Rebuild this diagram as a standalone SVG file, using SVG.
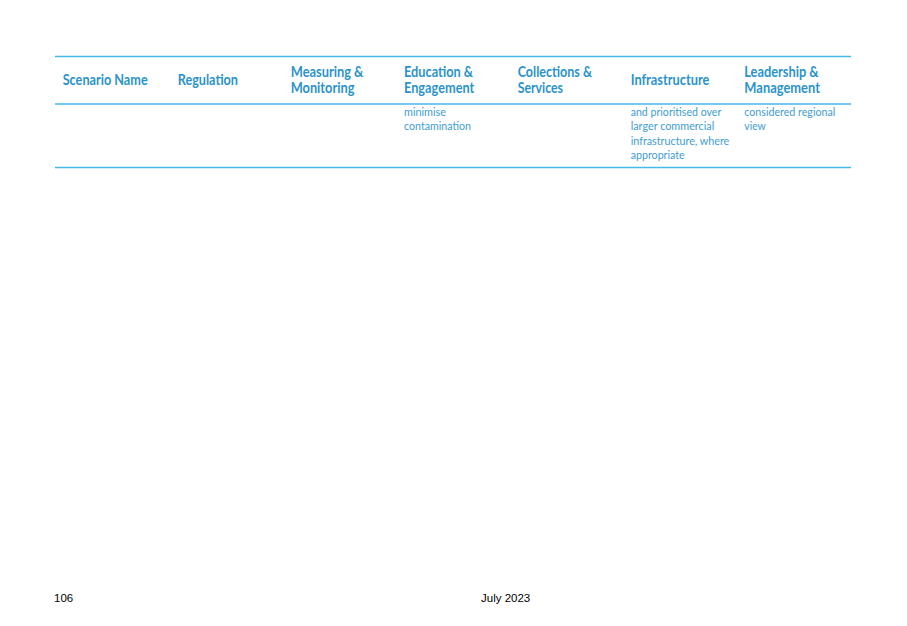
<svg xmlns="http://www.w3.org/2000/svg" width="907" height="626" viewBox="0 0 907 626">
<style>
.h{font-family:Lato,"Open Sans","Liberation Sans",sans-serif;font-weight:bold;font-size:14.5px;fill:#2B93CB}
.b{font-family:Lato,"Open Sans","Liberation Sans",sans-serif;font-size:12px;fill:#3E9DD3}
.f{font-family:"Liberation Sans",Arial,sans-serif;font-size:11.5px;fill:#000}
.rule{stroke:#45B9E8;stroke-width:1.5}
</style>
<rect width="907" height="626" fill="#fff"/>
<g id="rules">
<line class="rule" x1="55" y1="56.5" x2="851" y2="56.5"/>
<line class="rule" x1="55" y1="104" x2="851" y2="104"/>
<line class="rule" x1="55" y1="167.5" x2="851" y2="167.5" stroke="#6CCBF0"/>
</g>
<g id="header" lengthAdjust="spacingAndGlyphs">
<text class="h" x="62.7" y="85" textLength="85" lengthAdjust="spacingAndGlyphs">Scenario Name</text>
<text class="h" x="177.7" y="85" textLength="60.3" lengthAdjust="spacingAndGlyphs">Regulation</text>
<text class="h" x="290.7" y="77" textLength="72.7" lengthAdjust="spacingAndGlyphs">Measuring &amp;</text>
<text class="h" x="290.7" y="93" textLength="63.7" lengthAdjust="spacingAndGlyphs">Monitoring</text>
<text class="h" x="404" y="77" textLength="69" lengthAdjust="spacingAndGlyphs">Education &amp;</text>
<text class="h" x="404" y="93" textLength="70.3" lengthAdjust="spacingAndGlyphs">Engagement</text>
<text class="h" x="517.7" y="77" textLength="74.3" lengthAdjust="spacingAndGlyphs">Collections &amp;</text>
<text class="h" x="517.7" y="93" textLength="45.3" lengthAdjust="spacingAndGlyphs">Services</text>
<text class="h" x="630.7" y="85" textLength="78.7" lengthAdjust="spacingAndGlyphs">Infrastructure</text>
<text class="h" x="744.3" y="77" textLength="74.3" lengthAdjust="spacingAndGlyphs">Leadership &amp;</text>
<text class="h" x="744.3" y="93" textLength="75.7" lengthAdjust="spacingAndGlyphs">Management</text>
</g>
<g id="body">
<text class="b" x="404" y="116" textLength="42" lengthAdjust="spacingAndGlyphs">minimise</text>
<text class="b" x="404" y="130.4" textLength="67" lengthAdjust="spacingAndGlyphs">contamination</text>
<text class="b" x="630.7" y="116" textLength="90.6" lengthAdjust="spacingAndGlyphs">and prioritised over</text>
<text class="b" x="630.7" y="130.4" textLength="83.6" lengthAdjust="spacingAndGlyphs">larger commercial</text>
<text class="b" x="630.7" y="144.8" textLength="98.6" lengthAdjust="spacingAndGlyphs">infrastructure, where</text>
<text class="b" x="630.7" y="159.2" textLength="54" lengthAdjust="spacingAndGlyphs">appropriate</text>
<text class="b" x="744.3" y="116" textLength="91" lengthAdjust="spacingAndGlyphs">considered regional</text>
<text class="b" x="744.3" y="130.4" textLength="21.4" lengthAdjust="spacingAndGlyphs">view</text>
</g>
<g id="footer">
<text class="f" x="54" y="602">106</text>
<text class="f" x="481" y="602">July 2023</text>
</g>
</svg>
